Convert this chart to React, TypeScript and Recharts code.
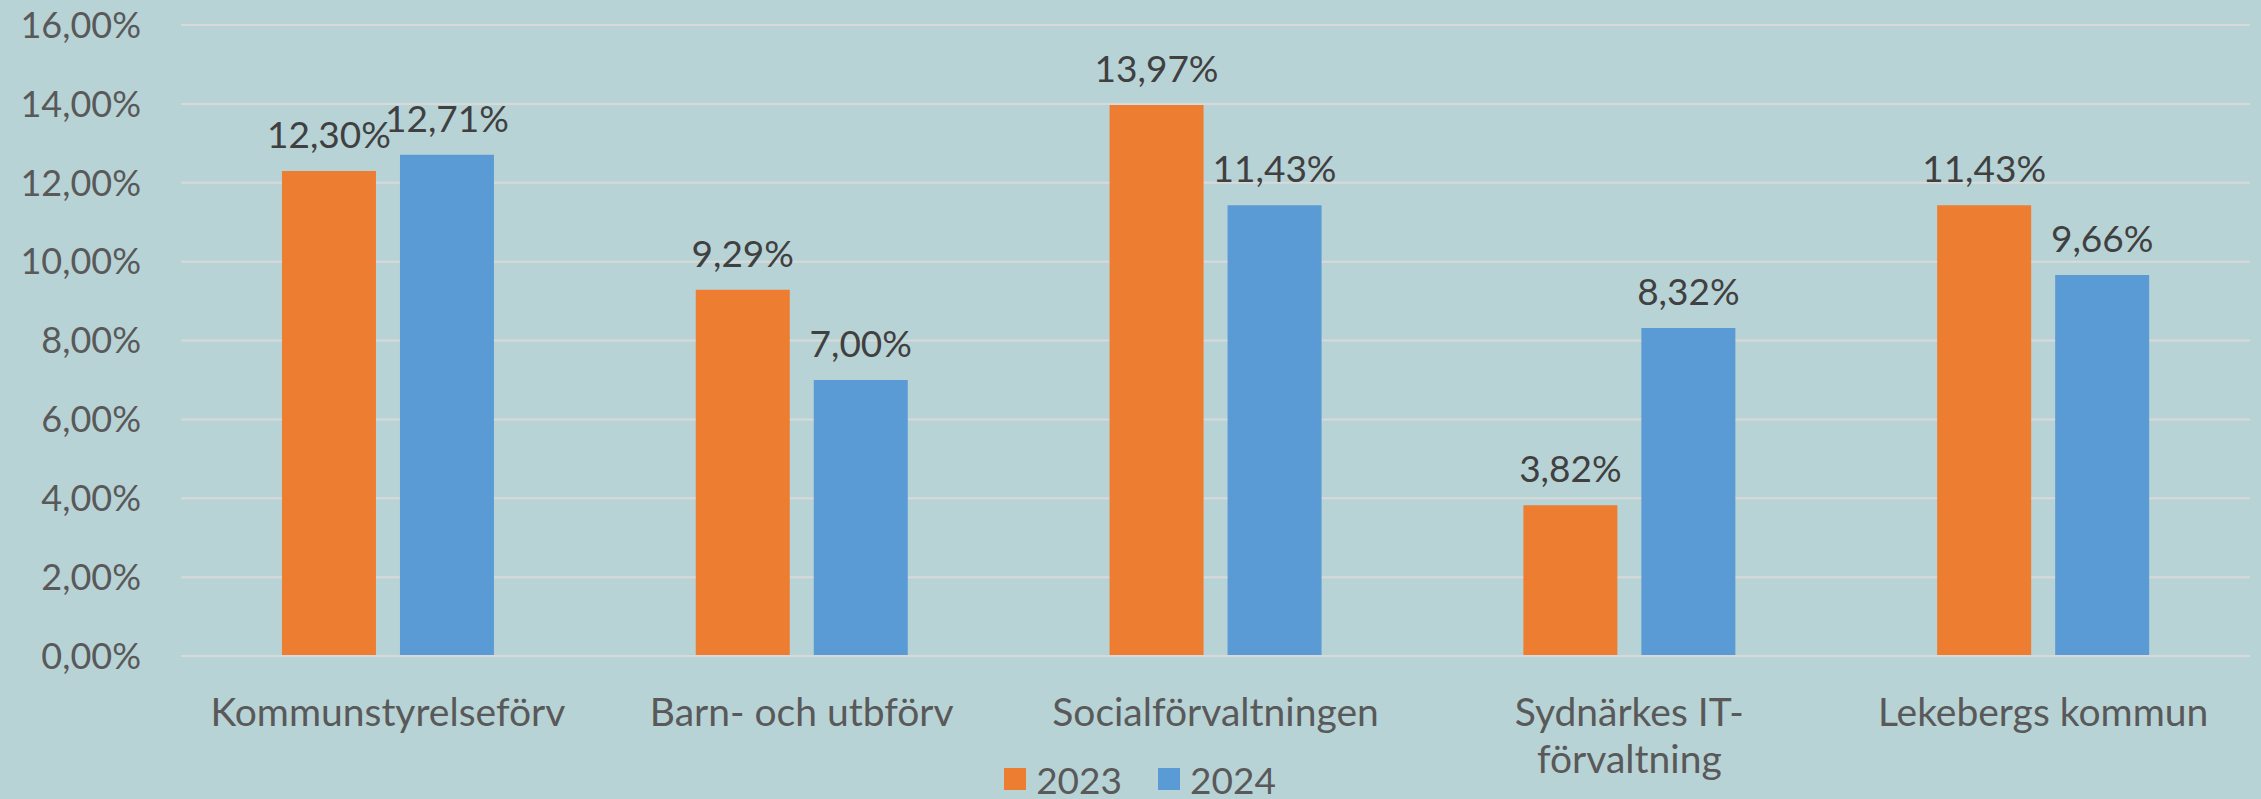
import { BarChart, Bar, XAxis, YAxis, CartesianGrid, Legend, LabelList } from 'recharts';

const FONT = 'Lato, "Open Sans", sans-serif';

const categories = [
  'Kommunstyrelseförv',
  'Barn- och utbförv',
  'Socialförvaltningen',
  'Sydnärkes IT-förvaltning',
  'Lekebergs kommun',
];
const values2023 = [12.3, 9.29, 13.97, 3.82, 11.43];
const values2024 = [12.71, 7.0, 11.43, 8.32, 9.66];
const yTicks = [0, 2, 4, 6, 8, 10, 12, 14, 16];

const data = categories.map((name, i) => ({
  name,
  v2023: values2023[i],
  v2024: values2024[i],
}));

const fmt = (v: number) => v.toFixed(2).replace('.', ',') + '%';

function XTick({ x, y, payload }: any) {
  const label: string = payload.value;
  const cut = label.lastIndexOf('-');
  const lines =
    label.length > 20 && cut > 0 ? [label.slice(0, cut + 1), label.slice(cut + 1)] : [label];
  return (
    <text x={x} y={y} textAnchor="middle" fill="#595959" fontSize={39} fontFamily={FONT}>
      {lines.map((l, i) => (
        <tspan key={i} x={x} dy={i === 0 ? 70 : 47}>
          {l}
        </tspan>
      ))}
    </text>
  );
}

function LegendContent({ payload }: any) {
  return (
    <div
      style={{
        display: 'flex',
        justifyContent: 'center',
        alignItems: 'center',
        height: 40,
        paddingLeft: 30,
        fontFamily: FONT,
        fontSize: 37,
        color: '#595959',
      }}
    >
      {(payload || []).map((p: any) => (
        <span key={p.value} style={{ display: 'flex', alignItems: 'center', margin: '0 18px' }}>
          <span style={{ width: 22, height: 22, background: p.color, marginRight: 10 }} />
          {p.value}
        </span>
      ))}
    </div>
  );
}

export default function App() {
  return (
    <div style={{ position: 'absolute', left: 0, top: 0, width: 2261, height: 799, background: '#B8D3D6' }}>
      <BarChart
        width={2261}
        height={799}
        data={data}
        margin={{ top: 25, right: 11, left: 0, bottom: 0 }}
        barCategoryGap="24.4%"
        barGap={24}
      >
        <CartesianGrid vertical={false} stroke="#D9D9D9" strokeWidth={2} />
        <XAxis
          dataKey="name"
          axisLine={{ stroke: '#D9D9D9', strokeWidth: 2 }}
          tickLine={false}
          tickSize={0}
          tickMargin={0}
          height={103}
          interval={0}
          tick={<XTick />}
        />
        <YAxis
          width={181}
          domain={[0, 16]}
          ticks={yTicks}
          tickFormatter={fmt}
          axisLine={false}
          tickLine={false}
          tickSize={0}
          tickMargin={40}
          tick={{ fill: '#595959', fontSize: 36, fontFamily: FONT }}
        />
        <Legend verticalAlign="bottom" content={<LegendContent />} wrapperStyle={{ height: 40 }} />
        <Bar dataKey="v2023" name="2023" fill="#ED7D31" isAnimationActive={false}>
          <LabelList
            dataKey="v2023"
            position="top"
            offset={23}
            formatter={(v: any) => fmt(Number(v))}
            fill="#404040"
            fontSize={37}
            fontFamily={FONT}
          />
        </Bar>
        <Bar dataKey="v2024" name="2024" fill="#5B9BD5" isAnimationActive={false}>
          <LabelList
            dataKey="v2024"
            position="top"
            offset={23}
            formatter={(v: any) => fmt(Number(v))}
            fill="#404040"
            fontSize={37}
            fontFamily={FONT}
          />
        </Bar>
      </BarChart>
    </div>
  );
}
